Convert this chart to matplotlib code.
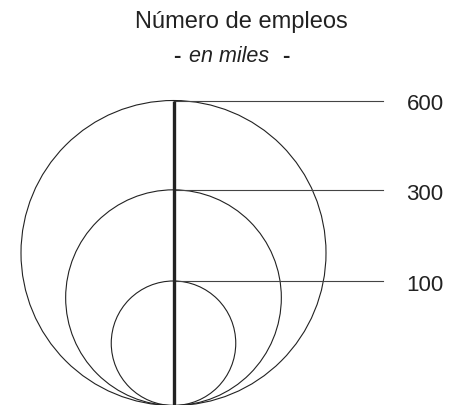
import matplotlib
matplotlib.use("Agg")
import matplotlib.pyplot as plt
from matplotlib.patches import Circle
import numpy as np

values = [600, 300, 100]
labels = ["600", "300", "100"]
title = "Número de empleos"
subtitle_it = "en miles"

W, H = 450, 405
fig = plt.figure(figsize=(W / 100, H / 100), dpi=100)
ax = fig.add_axes([0, 0, 1, 1])
ax.set_xlim(0, W)
ax.set_ylim(H, 0)
ax.axis("off")

k = 152.5 / np.sqrt(600)
cx = 173.5
bottom = 405.5
line_end = 383
col = "#222222"

rmax = k * np.sqrt(max(values))
for v, lab in zip(values, labels):
    r = k * np.sqrt(v)
    cy = bottom - r
    ax.add_patch(Circle((cx, cy), r, fill=False, ec=col, lw=0.8))
    top = bottom - 2 * r
    ax.plot([cx, line_end], [top, top], color="#444444", lw=0.8)
    ax.text(425, top + 4.5, lab, ha="center", va="center", fontsize=16,
            family="Liberation Sans", color=col)

ax.plot([cx, cx], [bottom - 2 * rmax, H], color=col, lw=2.4, solid_capstyle="butt")

ax.text(241, 28, title, ha="center", va="baseline", fontsize=17,
        family="Liberation Sans", color=col)
ax.text(229.5, 62.5, subtitle_it, ha="center", va="baseline", fontsize=15.5,
        family="Liberation Sans", style="italic", color=col)
ax.text(176.5, 62.5, "-", ha="center", va="baseline", fontsize=16,
        family="Liberation Sans", weight="bold", color=col)
ax.text(286, 62.5, "-", ha="center", va="baseline", fontsize=16,
        family="Liberation Sans", weight="bold", color=col)

fig.savefig("out.png", dpi=100)
